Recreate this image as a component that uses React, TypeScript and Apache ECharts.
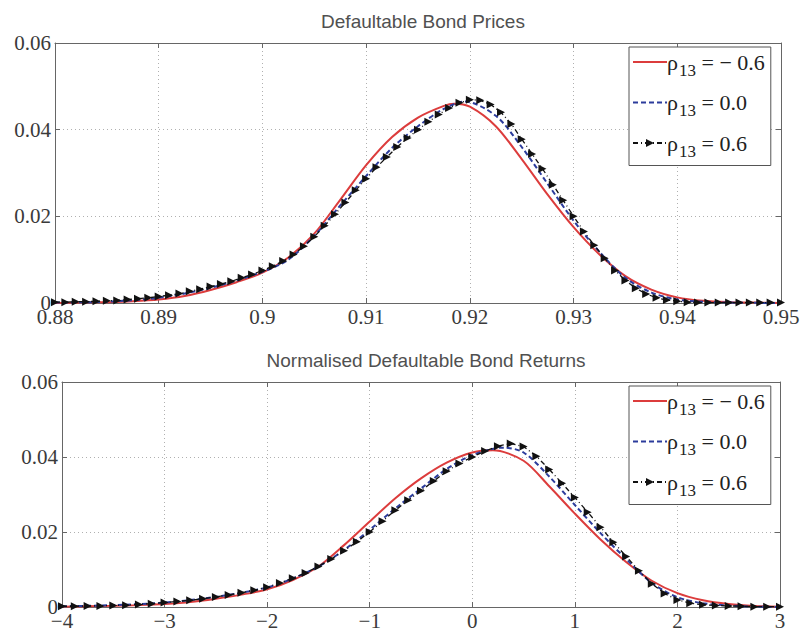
import React, { useEffect, useRef } from "react";
import * as echarts from "echarts";

// ---- Top panel: Defaultable Bond Prices ----
const priceTicks = [0.88, 0.89, 0.9, 0.91, 0.92, 0.93, 0.94, 0.95];
const redPriceX = [0.88, 0.8825, 0.885, 0.8875, 0.89, 0.8925, 0.895, 0.8975, 0.9, 0.9025, 0.905, 0.9075, 0.91, 0.9125, 0.915, 0.9175, 0.9185, 0.92, 0.9225, 0.925, 0.9275, 0.93, 0.9325, 0.935, 0.9375, 0.94, 0.9425, 0.945, 0.9475, 0.95];
const redPriceY = [0, 0.0001, 0.0002, 0.0004, 0.0008, 0.0016, 0.003, 0.0048, 0.007, 0.0105, 0.016, 0.0238, 0.0318, 0.0383, 0.0428, 0.0455, 0.046, 0.0453, 0.0408, 0.0332, 0.025, 0.0175, 0.0112, 0.0062, 0.0031, 0.0013, 0.0005, 0.0002, 0.0001, 0];
const bluePriceX = [0.88, 0.885, 0.89, 0.895, 0.9, 0.9025, 0.905, 0.9075, 0.91, 0.9125, 0.915, 0.9175, 0.9195, 0.9225, 0.925, 0.9275, 0.93, 0.9325, 0.935, 0.9375, 0.94, 0.9425, 0.945, 0.95];
const bluePriceY = [0.0001, 0.0003, 0.0012, 0.0035, 0.0072, 0.01, 0.0155, 0.0225, 0.0293, 0.0358, 0.0408, 0.0448, 0.0465, 0.0432, 0.036, 0.0275, 0.019, 0.0118, 0.0058, 0.0024, 0.0008, 0.0003, 0.0001, 0];
const blackPriceX = [0.88, 0.881, 0.882, 0.883, 0.884, 0.885, 0.886, 0.887, 0.888, 0.889, 0.89, 0.891, 0.892, 0.893, 0.894, 0.895, 0.896, 0.897, 0.898, 0.899, 0.9, 0.901, 0.902, 0.903, 0.904, 0.905, 0.906, 0.907, 0.908, 0.909, 0.91, 0.911, 0.912, 0.913, 0.914, 0.915, 0.916, 0.917, 0.918, 0.919, 0.92, 0.921, 0.922, 0.923, 0.924, 0.925, 0.926, 0.927, 0.928, 0.929, 0.93, 0.931, 0.932, 0.933, 0.934, 0.935, 0.936, 0.937, 0.938, 0.939, 0.94, 0.941, 0.942, 0.943, 0.944, 0.945, 0.946, 0.947, 0.948, 0.949, 0.95];
const blackPriceY = [0.0002, 0.0002, 0.0003, 0.0003, 0.0004, 0.0005, 0.0006, 0.0008, 0.001, 0.0012, 0.0015, 0.0018, 0.0022, 0.0027, 0.0032, 0.0038, 0.0044, 0.005, 0.0058, 0.0066, 0.0075, 0.0085, 0.0097, 0.0112, 0.0131, 0.0153, 0.0178, 0.0205, 0.0232, 0.026, 0.0287, 0.0313, 0.0337, 0.036, 0.0381, 0.04, 0.0418, 0.0435, 0.045, 0.0462, 0.0469, 0.0468, 0.0458, 0.044, 0.0413, 0.0378, 0.0344, 0.031, 0.0273, 0.0237, 0.02, 0.0165, 0.0133, 0.0103, 0.0075, 0.0052, 0.0034, 0.0021, 0.0012, 0.0007, 0.0004, 0.0002, 0.0001, 0.0001, 0.0001, 0.0001, 0.0001, 0.0001, 0.0001, 0.0001, 0.0001];

// ---- Bottom panel: Normalised Defaultable Bond Returns ----
const returnTicks = [-4, -3, -2, -1, 0, 1, 2, 3];
const redRetX = [-4, -3.75, -3.5, -3.25, -3, -2.75, -2.5, -2.25, -2, -1.75, -1.5, -1.25, -1, -0.75, -0.5, -0.25, 0, 0.2, 0.5, 0.75, 1, 1.25, 1.5, 1.75, 2, 2.25, 2.5, 2.75, 3];
const redRetY = [0.0001, 0.0002, 0.0003, 0.0005, 0.0008, 0.0013, 0.0022, 0.0033, 0.0047, 0.0072, 0.0108, 0.0165, 0.0228, 0.029, 0.0343, 0.0385, 0.0412, 0.0418, 0.039, 0.0322, 0.0249, 0.018, 0.012, 0.007, 0.0037, 0.0018, 0.0008, 0.0003, 0.0001];
const blueRetX = [-4, -3.5, -3, -2.5, -2, -1.75, -1.5, -1.25, -1, -0.75, -0.5, -0.25, 0, 0.3, 0.5, 0.75, 1, 1.25, 1.5, 1.75, 2, 2.25, 2.5, 2.75, 3];
const blueRetY = [0.0002, 0.0005, 0.0012, 0.0027, 0.0052, 0.0076, 0.0108, 0.0152, 0.0206, 0.0263, 0.0316, 0.0368, 0.0405, 0.0425, 0.0412, 0.0348, 0.0272, 0.0197, 0.0128, 0.0064, 0.0026, 0.001, 0.0004, 0.0001, 0];
const blackRetX = [-4, -3.875, -3.75, -3.625, -3.5, -3.375, -3.25, -3.125, -3, -2.875, -2.75, -2.625, -2.5, -2.375, -2.25, -2.125, -2, -1.875, -1.75, -1.625, -1.5, -1.375, -1.25, -1.125, -1, -0.875, -0.75, -0.625, -0.5, -0.375, -0.25, -0.125, 0, 0.125, 0.25, 0.375, 0.5, 0.625, 0.75, 0.875, 1, 1.125, 1.25, 1.375, 1.5, 1.625, 1.75, 1.875, 2, 2.125, 2.25, 2.375, 2.5, 2.625, 2.75, 2.875, 3];
const blackRetY = [0.0002, 0.0002, 0.0003, 0.0003, 0.0004, 0.0005, 0.0007, 0.0009, 0.0012, 0.0015, 0.0018, 0.0022, 0.0027, 0.0032, 0.0038, 0.0045, 0.0053, 0.0064, 0.0077, 0.0091, 0.0108, 0.0128, 0.015, 0.0174, 0.02, 0.0229, 0.0258, 0.0285, 0.031, 0.0336, 0.0362, 0.0383, 0.04, 0.0416, 0.0429, 0.0436, 0.0428, 0.0402, 0.0367, 0.033, 0.0292, 0.0253, 0.0213, 0.0173, 0.0135, 0.0097, 0.0062, 0.0036, 0.0019, 0.001, 0.0006, 0.0004, 0.0003, 0.0002, 0.0001, 0.0001, 0.0001];

const yTicks = [0, 0.02, 0.04, 0.06];
const titles = ["Defaultable Bond Prices", "Normalised Defaultable Bond Returns"];
const legendNames = ["rho-0.6", "rho0.0", "rho0.6"];
const legendLabels = [" = \u2212 0.6", " = 0.0", " = 0.6"];

const pairs = (xs: number[], ys: number[]) => xs.map((x, i) => [x, ys[i]]);

export default function App() {
  const ref = useRef<HTMLDivElement>(null);
  useEffect(() => {
    document.body.style.margin = "0";
    const chart = echarts.init(ref.current!, null, { renderer: "svg" });
    const serif = "'Liberation Serif', serif";
    const sans = "'Liberation Sans', Arial, sans-serif";
    const tickColor = "#3a3a3a";
    const axisLineColor = "#666";
    const grids = [
      { left: 55, right: 22, top: 43, height: 260 },
      { left: 62, right: 23, top: 382, height: 225 },
    ];
    const mkX = (gi: number, min: number, max: number, interval: number, fmt: (v: number) => string) => [
      {
        type: "value", gridIndex: gi, min, max, interval, position: "bottom",
        axisLine: { onZero: false, lineStyle: { color: axisLineColor } },
        axisTick: { inside: true, length: 5, lineStyle: { color: axisLineColor } },
        axisLabel: { fontFamily: serif, fontSize: 21, color: tickColor, margin: 3, formatter: fmt },
        splitLine: { show: true, lineStyle: { type: [1, 3], color: "#b0b0b0" } },
      },
      {
        type: "value", gridIndex: gi, min, max, interval, position: "top",
        axisLine: { onZero: false, lineStyle: { color: axisLineColor } },
        axisTick: { inside: true, length: 5, lineStyle: { color: axisLineColor } },
        axisLabel: { show: false },
        splitLine: { show: false },
      },
    ];
    const yFmt = (v: number) => (v === 0 ? "0" : v.toFixed(2));
    const mkY = (gi: number) => [
      {
        type: "value", gridIndex: gi, min: yTicks[0], max: yTicks[yTicks.length - 1], interval: 0.02, position: "left",
        axisLine: { show: true, onZero: false, lineStyle: { color: axisLineColor } },
        axisTick: { show: true, inside: true, length: 5, lineStyle: { color: axisLineColor } },
        axisLabel: { fontFamily: serif, fontSize: 21, color: tickColor, margin: 4, formatter: yFmt },
        splitLine: { show: true, lineStyle: { type: [1, 3], color: "#b0b0b0" } },
      },
      {
        type: "value", gridIndex: gi, min: yTicks[0], max: yTicks[yTicks.length - 1], interval: 0.02, position: "right",
        axisLine: { show: true, onZero: false, lineStyle: { color: axisLineColor } },
        axisTick: { show: true, inside: true, length: 5, lineStyle: { color: axisLineColor } },
        axisLabel: { show: false },
        splitLine: { show: false },
      },
    ];
    const priceFmt = (v: number) => String(+v.toFixed(2));
    const retFmt = (v: number) => (v < 0 ? "\u2212" + Math.abs(v) : String(v));

    const redStyle = { color: "#dc3c3c", width: 2 };
    const blueStyle = { color: "#2c3c9c", width: 2, type: [5, 3] };
    const blackStyle = { color: "#111", width: 1.3, type: [5, 3, 1, 3] };

    const mkSeries = (gi: number, red: number[][], blue: number[][], black: number[][]) => [
      {
        name: legendNames[0], type: "line", xAxisIndex: gi * 2, yAxisIndex: gi * 2, data: red,
        smooth: 0.3, showSymbol: false, symbol: "none", lineStyle: redStyle, itemStyle: { color: redStyle.color },
      },
      {
        name: legendNames[1], type: "line", xAxisIndex: gi * 2, yAxisIndex: gi * 2, data: blue,
        smooth: 0.3, showSymbol: false, symbol: "none", lineStyle: blueStyle, itemStyle: { color: blueStyle.color },
      },
      {
        name: legendNames[2], type: "line", xAxisIndex: gi * 2, yAxisIndex: gi * 2, data: black,
        symbol: "triangle", symbolRotate: -90, symbolSize: 8, showSymbol: true,
        lineStyle: blackStyle, itemStyle: { color: "#111" },
      },
    ];

    const legendRich = {
      a: { fontFamily: serif, fontSize: 22, color: "#222", lineHeight: 28 },
      b: { fontFamily: serif, fontSize: 17, color: "#222", padding: [16, 0, 0, 1] },
    };
    const legendFmt = (name: string) => {
      const i = legendNames.indexOf(name);
      return "{a|\u03c1}{b|13}{a|" + legendLabels[i] + "}";
    };
    const mkLegend = (top: number) => ({
      show: true, orient: "vertical", left: 629, top,
      data: [
        { name: legendNames[0], itemStyle: { opacity: 0 } },
        { name: legendNames[1], itemStyle: { opacity: 0 } },
        { name: legendNames[2] },
      ],
      backgroundColor: "#fff", borderColor: "#555", borderWidth: 1,
      padding: [4, 6, 6, 3], itemGap: 13, itemWidth: 34, itemHeight: 10,
      formatter: legendFmt,
      textStyle: { padding: [0, 0, 0, -5], rich: legendRich },
      selectedMode: false,
    });

    chart.setOption({
      animation: false,
      backgroundColor: "#fff",
      title: [
        { text: titles[0], left: 418, top: 7, textAlign: "center", textStyle: { fontFamily: sans, fontSize: 19, fontWeight: "normal", color: "#505050" } },
        { text: titles[1], left: 421, top: 346, textAlign: "center", textStyle: { fontFamily: sans, fontSize: 19, fontWeight: "normal", color: "#505050" } },
      ],
      legend: [mkLegend(47), mkLegend(386)],
      grid: grids,
      xAxis: [
        ...mkX(0, priceTicks[0], priceTicks[priceTicks.length - 1], 0.01, priceFmt),
        ...mkX(1, returnTicks[0], returnTicks[returnTicks.length - 1], 1, retFmt),
      ],
      yAxis: [...mkY(0), ...mkY(1)],
      series: [
        ...mkSeries(0, pairs(redPriceX, redPriceY), pairs(bluePriceX, bluePriceY), pairs(blackPriceX, blackPriceY)),
        ...mkSeries(1, pairs(redRetX, redRetY), pairs(blueRetX, blueRetY), pairs(blackRetX, blackRetY)),
      ],
    });
    return () => chart.dispose();
  }, []);
  return <div ref={ref} style={{ width: 803, height: 634 }} />;
}
